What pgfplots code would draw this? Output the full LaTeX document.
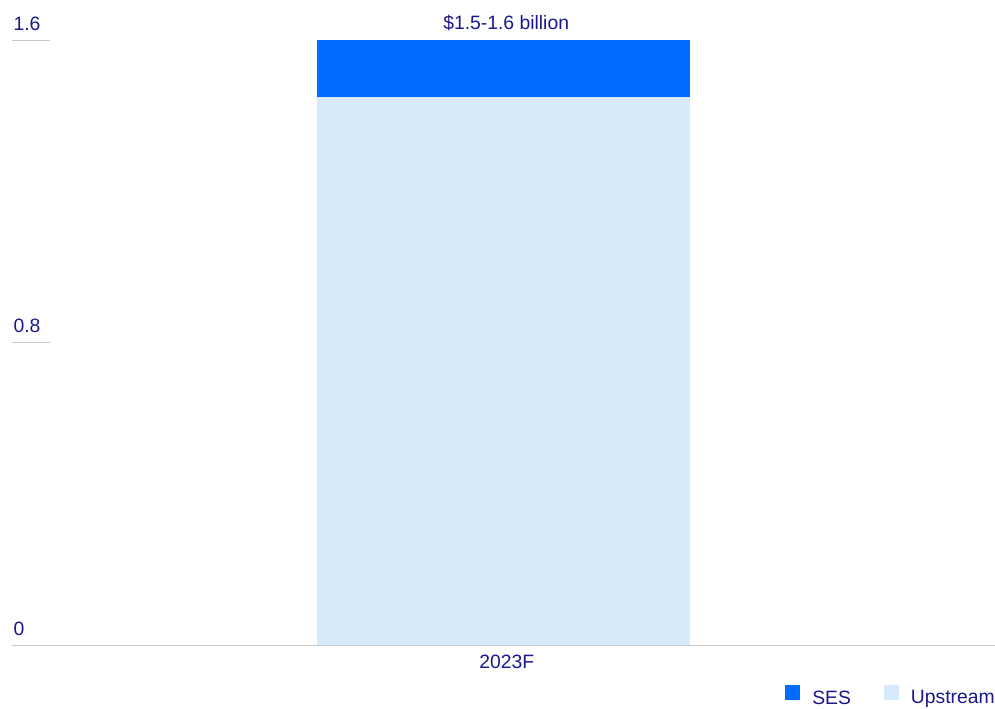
\documentclass[border=0pt]{standalone}
\usepackage{fontspec}
\setmainfont{Liberation Sans}
\usepackage{pgfplots}
\pgfplotsset{compat=1.18}
\definecolor{txt}{RGB}{26,24,140}
\definecolor{ses}{RGB}{0,107,255}
\definecolor{ups}{RGB}{214,234,252}
\definecolor{gridc}{RGB}{200,200,200}
\begin{document}
\begin{tikzpicture}[font=\fontsize{14.5}{17}\selectfont]
\begin{axis}[
  anchor=south west,
  width=737.25pt, height=453.375pt, scale only axis,
  clip=false,
  xmin=-1, xmax=1, ymin=0, ymax=1.6,
  ybar stacked, bar width=0.757,
  axis x line*=bottom, axis y line*=left,
  axis line style={-},
  x axis line style={gridc, line width=0.75pt},
  y axis line style={draw=none},
  tick align=inside,
  major tick length=28.5pt,
  ytick={0,0.8,1.6}, yticklabels={0,0.8,1.6},
  ytick style={gridc, line width=0.75pt},
  yticklabel style={anchor=base west, inner sep=0pt, xshift=1pt, yshift=7.5pt, text=txt},
  xtick={0}, xticklabels={2023F},
  xtick style={draw=none},
  xticklabel style={anchor=base, inner sep=0pt, xshift=2.5pt, yshift=-17.25pt, text=txt},
  legend style={at={(1,0)}, anchor=north east, yshift=-29.5pt, draw=none, fill=none,
    legend columns=2, inner sep=0pt, text=txt,
    nodes={inner sep=0pt},
    /tikz/every odd column/.append style={column sep=9pt},
    /tikz/every even column/.append style={column sep=24.75pt}},
  legend cell align=left,
  reverse legend,
  legend image code/.code={\fill[#1,draw=none] (0pt,-1pt) rectangle (11.25pt,10.25pt);},
]
\addplot[fill=ups, draw=none] coordinates {(0,1.45)};
\addplot[fill=ses, draw=none] coordinates {(0,0.15)};
\legend{Upstream, SES}
\node[anchor=base, text=txt, inner sep=0pt] at (axis cs:0,1.6) [xshift=2pt, yshift=8.25pt] {\$1.5-1.6 billion};
\end{axis}
\pgfresetboundingbox
\useasboundingbox (-9pt,-47.25pt) rectangle (737.25pt,483.75pt);
\end{tikzpicture}
\end{document}
